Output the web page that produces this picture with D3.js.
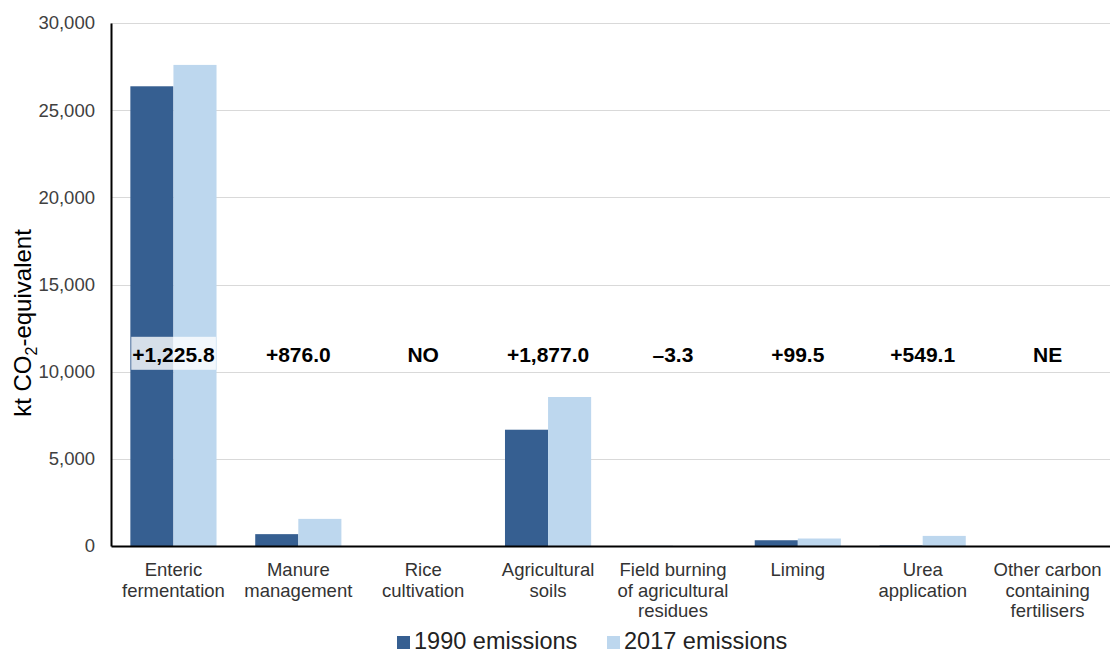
<!DOCTYPE html>
<html><head><meta charset="utf-8">
<script src="https://cdn.jsdelivr.net/npm/d3@7"></script>
<style>body{margin:0;background:#fff;} text{font-family:"Liberation Sans",Arial,sans-serif;}</style>
</head><body><svg id="c" width="1110" height="655"></svg>
<script>
const categories = [["Enteric","fermentation"],["Manure","management"],["Rice","cultivation"],["Agricultural","soils"],["Field burning","of agricultural","residues"],["Liming"],["Urea","application"],["Other carbon","containing","fertilisers"]];
const series1990 = [26370, 680, 0, 6670, 8, 330, 30, 0];
const series2017 = [27596, 1556, 0, 8547, 4.7, 429.5, 579.1, 0];
const changeLabels = ["+1,225.8","+876.0","NO","+1,877.0","\u20133.3","+99.5","+549.1","NE"];
const yTicks = [0,5000,10000,15000,20000,25000,30000];
const seriesNames = ["1990 emissions","2017 emissions"];
const colors = ["#365f91","#bdd7ee"];
const labelLevel = 12000;

const svg = d3.select("#c");
const m = {l:111, r:1110, t:23, b:546};
const x = d3.scaleBand().domain(d3.range(categories.length)).range([m.l, m.r]).paddingInner(0.31).paddingOuter(0.155);
const xi = d3.scaleBand().domain([0,1]).range([0, x.bandwidth()]);
const y = d3.scaleLinear().domain([0,30000]).range([m.b, m.t]);

// gridlines
svg.append("g").selectAll("line").data(yTicks.filter(d=>d>0)).join("line")
  .attr("x1", m.l).attr("x2", m.r).attr("y1", d=>Math.round(y(d))+0.5).attr("y2", d=>Math.round(y(d))+0.5)
  .attr("stroke","#d9d9d9").attr("stroke-width",1);

// y axis
const ya = svg.append("g").attr("transform",`translate(${m.l},0)`)
  .call(d3.axisLeft(y).tickValues(yTicks).tickSize(0).tickPadding(16).tickFormat(d3.format(",")));
ya.select(".domain").attr("stroke","#000").attr("stroke-width",2);
ya.selectAll("text").attr("font-size",18.5).attr("fill","#404040").attr("font-family","Liberation Sans, Arial, sans-serif");

// bars
const data = categories.map((c,i)=>({i, vals:[series1990[i], series2017[i]]}));
const g = svg.append("g");
data.forEach(d=>{
  d.vals.forEach((v,k)=>{
    g.append("rect").attr("x", x(d.i)+xi(k)).attr("width", xi.bandwidth())
      .attr("y", y(v)).attr("height", y(0)-y(v)).attr("fill", colors[k]);
  });
});

// x axis
const xa = svg.append("g").attr("transform",`translate(0,${m.b})`)
  .call(d3.axisBottom(x).tickSize(0).tickFormat(""));
xa.select(".domain").attr("stroke","#000").attr("stroke-width",2);
xa.selectAll(".tick").each(function(d){
  const t = d3.select(this).append("text").attr("fill","#333").attr("font-size",18.5).attr("text-anchor","middle");
  categories[d].forEach((line,j)=>{
    t.append("tspan").attr("x",0).attr("y", 30 + j*20.5).text(line);
  });
});

// change labels with translucent boxes
const lg = svg.append("g");
changeLabels.forEach((lab,i)=>{
  const cx = x(i) + x.bandwidth()/2;
  const t = lg.append("text").attr("x", cx).attr("y", y(labelLevel)+25.5).attr("text-anchor","middle")
    .attr("font-size",21).attr("font-weight","bold").attr("fill","#000").text(lab);
  const bb = t.node().getBBox();
  lg.insert("rect", "text").attr("x", bb.x-1).attr("width", bb.width+2)
    .attr("y", y(labelLevel)).attr("height", 33).attr("fill","#fff").attr("fill-opacity",0.8);
});

// y title
svg.append("text").attr("transform","translate(31,323) rotate(-90)").attr("text-anchor","middle")
  .attr("font-size",24).attr("fill","#000")
  .call(t=>{ t.append("tspan").text("kt CO");
             t.append("tspan").attr("font-size",16).attr("dy",6).text("2");
             t.append("tspan").attr("dy",-6).text("-equivalent"); });

// legend
const legX = [397, 607];
seriesNames.forEach((n,k)=>{
  svg.append("rect").attr("x",legX[k]).attr("y",636).attr("width",13).attr("height",13).attr("fill",colors[k]);
  svg.append("text").attr("x",legX[k]+17).attr("y",649).attr("font-size",23.5).attr("fill","#222").text(n);
});
</script></body></html>
